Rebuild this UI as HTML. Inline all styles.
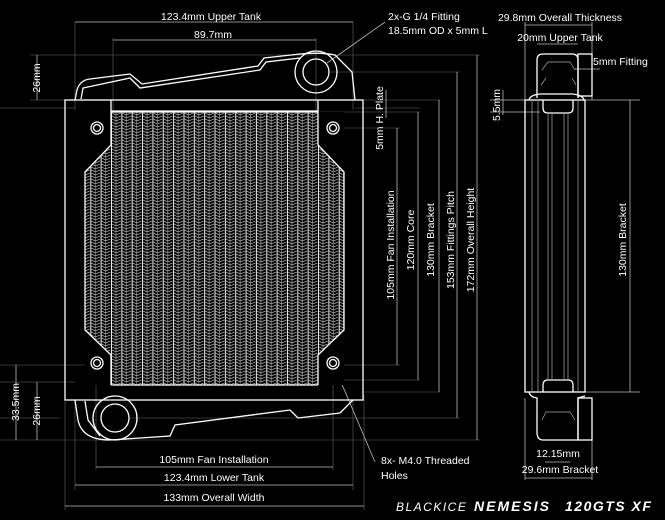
<!DOCTYPE html>
<html><head><style>
html,body{margin:0;padding:0;background:#000;}
svg{display:block;}
text{font-family:"Liberation Sans",sans-serif;fill:#fff;font-size:10.5px;}
</style></head><body>
<svg width="665" height="520" viewBox="0 0 665 520" xmlns="http://www.w3.org/2000/svg">
<defs>
<pattern id="fin" x="111" y="112" width="10.35" height="6" patternUnits="userSpaceOnUse">
<rect width="10.35" height="6" fill="#000"/>
<line x1="0.5" y1="0" x2="0.5" y2="6" stroke="#eee" stroke-width="1"/>
<line x1="5" y1="0" x2="5" y2="6" stroke="#999" stroke-width="0.7"/>
<path d="M1 1 L5 3 L9.8 1 M1 4 L5 6 L9.8 4" stroke="#aaa" stroke-width="0.7" fill="none"/>
</pattern>
</defs>
<rect width="665" height="520" fill="#000"/>

<g stroke="#666" stroke-width="0.6">
<line x1="0" y1="108" x2="75" y2="108"/><line x1="355" y1="108" x2="420" y2="108"/>
<line x1="0" y1="382" x2="75" y2="382"/><line x1="0" y1="440" x2="120" y2="440"/>
<line x1="0" y1="418" x2="60" y2="418"/><line x1="0" y1="365" x2="100" y2="365"/>
<line x1="30" y1="55" x2="316" y2="55"/><line x1="30" y1="100" x2="70" y2="100"/>
<line x1="75" y1="22" x2="75" y2="110"/><line x1="353" y1="22" x2="353" y2="110"/>
<line x1="113" y1="38" x2="113" y2="110"/><line x1="316" y1="38" x2="316" y2="110"/>
<line x1="65" y1="395" x2="65" y2="510"/><line x1="364" y1="395" x2="364" y2="510"/>
<line x1="75" y1="400" x2="75" y2="490"/><line x1="353" y1="400" x2="353" y2="490"/>
<line x1="96" y1="360" x2="96" y2="470"/><line x1="333" y1="360" x2="333" y2="470"/>
<line x1="362" y1="100" x2="440" y2="100"/><line x1="340" y1="128" x2="400" y2="128"/>
<line x1="320" y1="112" x2="420" y2="112"/><line x1="320" y1="380" x2="420" y2="380"/>
<line x1="340" y1="365" x2="400" y2="365"/><line x1="362" y1="392" x2="440" y2="392"/>
<line x1="330" y1="72" x2="460" y2="72"/><line x1="130" y1="418" x2="460" y2="418"/>
<line x1="120" y1="440" x2="480" y2="440"/>
<line x1="330" y1="55" x2="480" y2="55"/>
</g>
<g stroke="#bbb" stroke-width="0.8">
<line x1="75" y1="22" x2="353" y2="22"/>
<line x1="113" y1="40" x2="316" y2="40"/>
<line x1="37" y1="55" x2="37" y2="100"/>
<line x1="16" y1="365" x2="16" y2="440"/>
<line x1="37" y1="382" x2="37" y2="440"/>
<line x1="96" y1="467" x2="333" y2="467"/>
<line x1="75" y1="485" x2="353" y2="485"/>
<line x1="65" y1="506" x2="364" y2="506"/>
<line x1="386" y1="90" x2="386" y2="118"/>
<line x1="397" y1="128" x2="397" y2="365"/>
<line x1="418" y1="112" x2="418" y2="380"/>
<line x1="439" y1="100" x2="439" y2="392"/>
<line x1="457" y1="72" x2="457" y2="418"/>
<line x1="477" y1="55" x2="477" y2="440"/>
<line x1="327" y1="63" x2="385" y2="22"/>
<line x1="335" y1="368" x2="375" y2="462"/>
<line x1="525" y1="25" x2="592" y2="25"/>
<line x1="537" y1="44" x2="578" y2="44"/>
<line x1="575" y1="69" x2="600" y2="69"/>
<line x1="503" y1="90" x2="503" y2="115"/>
<line x1="630" y1="100" x2="630" y2="392"/>
<line x1="545" y1="462" x2="570" y2="462"/>
<line x1="525" y1="478" x2="592" y2="478"/>
<line x1="525" y1="398" x2="525" y2="480"/><line x1="592" y1="398" x2="592" y2="480"/>
<line x1="525" y1="22" x2="525" y2="100"/><line x1="592" y1="22" x2="592" y2="100"/>
<line x1="490" y1="100" x2="640" y2="100"/><line x1="490" y1="112" x2="540" y2="112"/>
<line x1="585" y1="392" x2="640" y2="392"/>
</g>

<g stroke="#fff" stroke-width="1.3" fill="none">
<rect x="65" y="100" width="298" height="300"/>
<line x1="111" y1="100" x2="111" y2="112"/><line x1="318" y1="100" x2="318" y2="112"/>
<line x1="111" y1="111" x2="318" y2="111"/>
<path d="M75 100 L77 90 Q80 80 90 79 L130 74 L142 84 L258 66 L264 58 L300 54 Q320 52 335 55 L352 72 L355 100"/>
<path d="M81 99 L83 88 L130 78 L140 88 L260 70 L266 62 L300 58"/>
<circle cx="316" cy="72" r="21"/><circle cx="316" cy="72" r="13"/>
<path d="M75 400 L78 420 Q82 440 110 440 L170 436 L175 425 L290 410 L298 418 L340 413 L353 400"/>
<path d="M85 401 L88 420 L100 436"/>
<circle cx="115" cy="418" r="22"/><circle cx="115" cy="418" r="14"/>
</g>
<rect x="85" y="112" width="259" height="273" fill="url(#fin)"/>
<path d="M85 112 L111 112 L111 145 L85 172 Z M344 112 L318 112 L318 145 L344 172 Z M85 385 L111 385 L111 355 L85 330 Z M344 385 L318 385 L318 355 L344 330 Z" fill="#000"/>
<g stroke="#fff" stroke-width="1.3" fill="none">
<path d="M111 112 L111 145 L85 172 L85 330 L111 355 L111 385"/>
<path d="M318 112 L318 145 L344 172 L344 330 L318 355 L318 385"/>
<line x1="111" y1="112" x2="318" y2="112"/><line x1="111" y1="385" x2="318" y2="385"/>
<circle cx="97" cy="128" r="6"/><circle cx="97" cy="128" r="3.5"/>
<circle cx="333" cy="128" r="6"/><circle cx="333" cy="128" r="3.5"/>
<circle cx="97" cy="363" r="6"/><circle cx="97" cy="363" r="3.5"/>
<circle cx="333" cy="363" r="6"/><circle cx="333" cy="363" r="3.5"/>
</g>

<g stroke="#fff" stroke-width="1.3" fill="none">
<rect x="525" y="100" width="60" height="292"/>
<path d="M537 98 L537 60 Q537 54 543 54 L572 54 Q578 54 578 60 L578 98"/>
<rect x="578" y="54" width="14" height="42"/>
<path d="M529 100 Q530 95 540 94 L572 94 Q583 95 584 100"/>
<path d="M543 100 L543 108 Q543 113 548 113 L568 113 Q573 113 573 108 L573 100"/>
<path d="M543 392 L543 385 Q543 380 548 380 L568 380 Q573 380 573 385 L573 392"/>
<path d="M529 392 Q530 397 537 398 L537 432 Q537 440 543 440 L578 440 L578 398 L585 396"/>
<rect x="578" y="398" width="14" height="42"/>
</g>
<g stroke="#aaa" stroke-width="0.7">
<line x1="532" y1="100" x2="532" y2="392"/><line x1="538" y1="100" x2="538" y2="392"/>
<line x1="548" y1="113" x2="548" y2="380"/><line x1="552" y1="113" x2="552" y2="380"/>
<line x1="564" y1="113" x2="564" y2="380"/><line x1="568" y1="113" x2="568" y2="380"/>
<line x1="578" y1="100" x2="578" y2="392"/>
<path d="M542 70 L548 62 L570 62 L575 70 M541 85 L546 78 M572 78 L576 85 M542 420 L546 412 L570 412 L575 420"/>
</g>

<text x="211" y="20" text-anchor="middle">123.4mm Upper Tank</text>
<text x="213" y="38" text-anchor="middle">89.7mm</text>
<text x="388" y="20">2x-G 1/4 Fitting</text>
<text x="388" y="34">18.5mm OD x 5mm L</text>
<text transform="translate(40,78) rotate(-90)" text-anchor="middle">26mm</text>
<text transform="translate(19,402) rotate(-90)" text-anchor="middle">33.5mm</text>
<text transform="translate(40,411) rotate(-90)" text-anchor="middle">26mm</text>
<text x="214" y="463" text-anchor="middle">105mm  Fan Installation</text>
<text x="214" y="481" text-anchor="middle">123.4mm Lower Tank</text>
<text x="214" y="501" text-anchor="middle">133mm Overall Width</text>
<text x="381" y="464">8x- M4.0 Threaded</text>
<text x="381" y="479">Holes</text>
<text transform="translate(383,118) rotate(-90)" text-anchor="middle">5mm H. Plate</text>
<text transform="translate(394,245) rotate(-90)" text-anchor="middle">105mm  Fan Installation</text>
<text transform="translate(414,240) rotate(-90)" text-anchor="middle">120mm Core</text>
<text transform="translate(434,240) rotate(-90)" text-anchor="middle">130mm Bracket</text>
<text transform="translate(454,240) rotate(-90)" text-anchor="middle">153mm Fittings Pitch</text>
<text transform="translate(474,240) rotate(-90)" text-anchor="middle">172mm Overall Height</text>
<text x="560" y="21" text-anchor="middle">29.8mm  Overall Thickness</text>
<text x="560" y="41" text-anchor="middle">20mm Upper Tank</text>
<text x="593" y="65">5mm Fitting</text>
<text transform="translate(500,105) rotate(-90)" text-anchor="middle">5.5mm</text>
<text transform="translate(626,240) rotate(-90)" text-anchor="middle">130mm Bracket</text>
<text x="558" y="457" text-anchor="middle">12.15mm</text>
<text x="560" y="473" text-anchor="middle">29.6mm Bracket</text>
<text x="396" y="511" style="font-size:12px;font-style:italic;letter-spacing:1.5px">BLACKICE</text>
<text x="474" y="511" style="font-size:14px;font-weight:bold;font-style:italic;letter-spacing:2px">NEMESIS</text>
<text x="565" y="511" style="font-size:14px;font-weight:bold;font-style:italic;letter-spacing:1.5px">120GTS XF</text>
</svg>
</body></html>
